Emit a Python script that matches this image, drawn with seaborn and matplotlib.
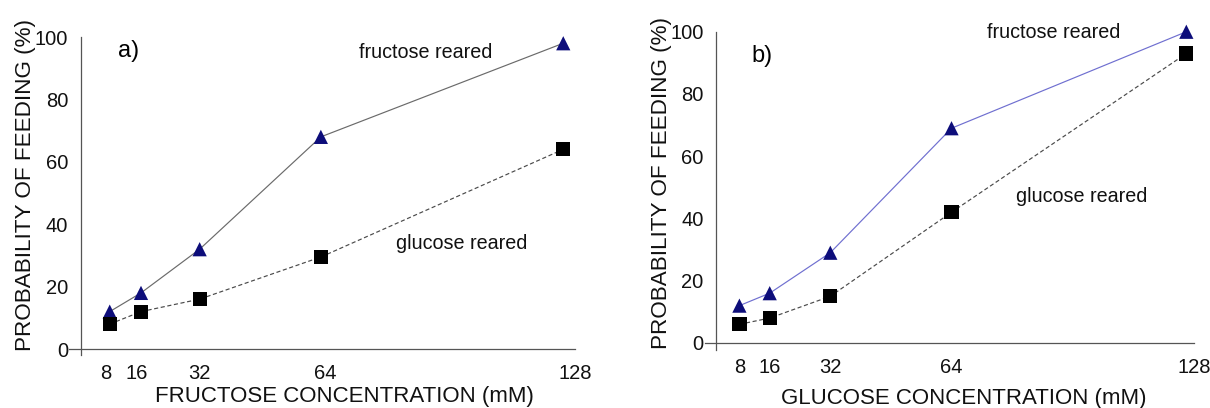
import matplotlib
matplotlib.use("Agg")
import matplotlib.pyplot as plt
import seaborn as sns
import pandas as pd

sns.set_theme(style="white")
plt.rcParams["font.family"] = ["Liberation Sans", "DejaVu Sans"]

# Panel a) - fructose test solutions
conc_a = [9, 17, 32, 63, 125]
fructose_reared_a = [12, 18, 32, 68, 98]
glucose_reared_a = [8, 12, 16, 29.5, 64]

# Panel b) - glucose test solutions
conc_b = [8, 16, 32, 64, 126]
fructose_reared_b = [12, 16, 29, 69, 100]
glucose_reared_b = [6, 8, 15, 42, 93]

x_ticks = [8, 16, 32, 64, 128]
y_ticks = [0, 20, 40, 60, 80, 100]

TXT = "#111111"
AX = "#555555"

fig = plt.figure(figsize=(12.10, 4.08), dpi=100)
ax_a = fig.add_axes([0.0574, 0.1299, 0.4178, 0.7794])
ax_b = fig.add_axes([0.5826, 0.1422, 0.4041, 0.7800])


def panel(ax, conc, fr, gl, fr_line, xlim, ylim, yspine_x, tag, xlabel,
          tag_xy, fr_xy, gl_xy, ylab_xy, xlab_xy):
    df = pd.DataFrame({
        "conc": conc * 2,
        "p": fr + gl,
        "group": ["fructose reared"] * len(conc) + ["glucose reared"] * len(conc),
    })
    sns.lineplot(data=df, x="conc", y="p", hue="group", style="group",
                 palette={"fructose reared": fr_line, "glucose reared": "#4a4a4a"},
                 dashes={"fructose reared": "", "glucose reared": (3.5, 2.2)},
                 linewidth=0.85, legend=False, ax=ax, clip_on=False)
    sns.scatterplot(data=df, x="conc", y="p", hue="group", style="group",
                    palette={"fructose reared": "#0d0d7a", "glucose reared": "#000000"},
                    markers={"fructose reared": "^", "glucose reared": "s"},
                    s=105, linewidth=0, legend=False, ax=ax, clip_on=False,
                    zorder=5)

    ax.set_xlim(*xlim)
    ax.set_ylim(*ylim)
    for side in ("top", "right"):
        ax.spines[side].set_visible(False)
    ax.spines["left"].set_position(("data", yspine_x))
    ax.spines["bottom"].set_position(("data", 0))
    for side in ("left", "bottom"):
        ax.spines[side].set_color(AX)
        ax.spines[side].set_linewidth(0.9)
    ax.spines["left"].set_bounds(ylim[0], 100)
    ax.spines["bottom"].set_bounds(xlim[0], 128)

    ax.set_xticks(x_ticks)
    ax.set_yticks(y_ticks)
    ax.tick_params(axis="both", direction="out", colors=AX, labelcolor=TXT,
                   labelsize=14.5, width=0.9)
    ax.tick_params(axis="y", length=8.5, pad=0.5)
    ax.tick_params(axis="x", length=8, pad=2.5)
    ax.grid(False)

    ax.set_xlabel(xlabel, fontsize=16, color=TXT)
    ax.set_ylabel("PROBABILITY OF FEEDING (%)", fontsize=16.2, color=TXT)
    ax.yaxis.set_label_coords(*ylab_xy)
    ax.xaxis.set_label_coords(*xlab_xy)

    ax.text(*tag_xy, tag, fontsize=17, color="#000000", ha="center", va="center")
    ax.text(*fr_xy, "fructose reared", fontsize=14.2, color=TXT, ha="center", va="center")
    ax.text(*gl_xy, "glucose reared", fontsize=14.2, color=TXT, ha="center", va="center")


panel(ax_a, conc_a, fructose_reared_a, glucose_reared_a, "#6a6a6a",
      (-1.3, 128), (-1.9, 100), 1.6, "a)", "FRUCTOSE CONCENTRATION (mM)",
      (13.9, 95.4), (89.9, 95.1), (99.1, 33.9), (-0.066, 0.536), (0.544, -0.097))
panel(ax_b, conc_b, fructose_reared_b, glucose_reared_b, "#6f6fd0",
      (-1.1, 128), (-2.25, 100), 1.8, "b)", "GLUCOSE CONCENTRATION (mM)",
      (13.9, 92.2), (91.0, 99.6), (98.4, 47.2), (-0.068, 0.526), (0.53, -0.119))

fig.savefig("out.png", dpi=100)
